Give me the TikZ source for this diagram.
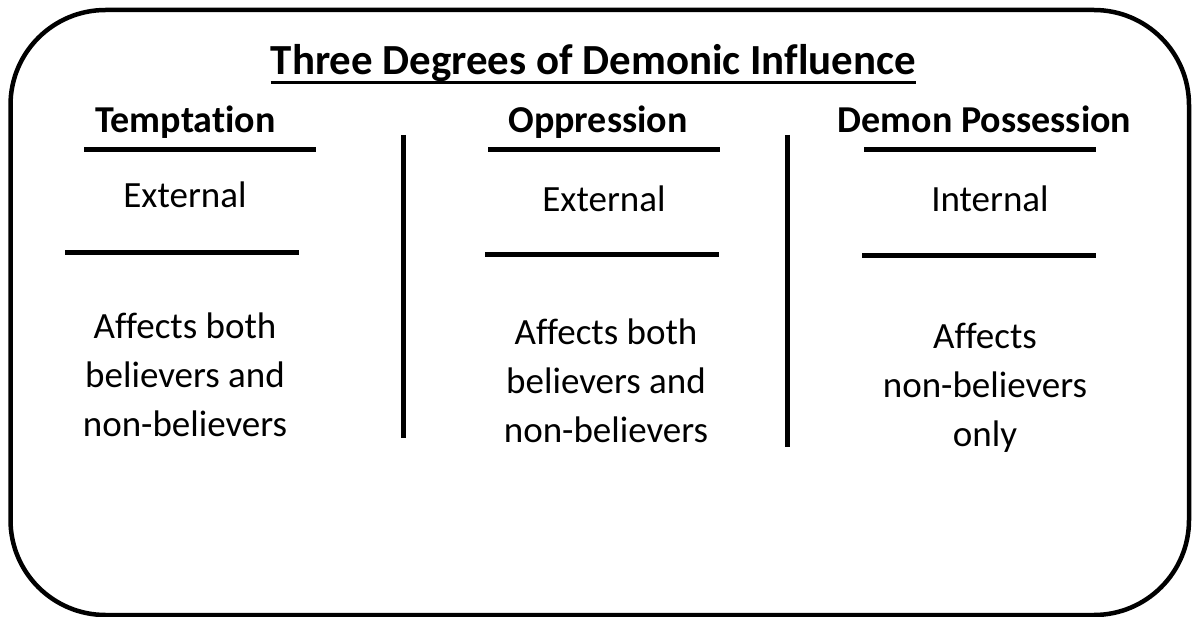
\documentclass[tikz,border=0pt]{standalone}
\usepackage{fontspec}
\setmainfont[Ligatures=NoCommon]{Carlito}
\usetikzlibrary{calc}
\begin{document}
\begin{tikzpicture}[x=1pt,y=-1pt,
  txt/.style={inner sep=0pt,font=\fontsize{37}{49}\selectfont},
  head/.style={inner sep=0pt,font=\fontsize{38}{49}\selectfont\bfseries},
  block/.style={inner sep=0pt,align=center,font=\fontsize{37}{49}\selectfont},
  rule/.style={line width=5pt},
  frame/.style={line width=4.5pt,rounded corners=95pt}]
\useasboundingbox (0,0) rectangle (1192,617);
\draw[frame] (10.5,10) rectangle (1189,615);
% title
\node[inner sep=0pt,anchor=base,font=\fontsize{42.9}{50}\selectfont\bfseries] (title) at (593.5,75) {Three Degrees of Demonic Influence};
\coordinate (ul1) at ($(title.base west)+(0,8)$);
\coordinate (ul2) at ($(title.base east)+(0,8)$);
\draw[line width=3pt] (ul1) -- (ul2);
% headings
\node[head,anchor=base] (h1) at (185.5,133) {Temptation};
\node[head,anchor=base] (h2) at (598,133) {Oppression};
\node[head,anchor=base] (h3) at (984.5,133) {Demon Possession};
% first rules
\coordinate (a1) at (84,150); \coordinate (a2) at (316,150);
\coordinate (b1) at (488,150); \coordinate (b2) at (720,150);
\coordinate (c1) at (864,150); \coordinate (c2) at (1096,150);
\draw[rule] (a1) -- (a2);
\draw[rule] (b1) -- (b2);
\draw[rule] (c1) -- (c2);
% second line
\node[txt,anchor=base] (e1) at (185,208) {External};
\node[txt,anchor=base] (e2) at (604,212) {External};
\node[txt,anchor=base] (e3) at (990,212) {Internal};
% second rules
\coordinate (d1) at (65,253); \coordinate (d2) at (299,253);
\coordinate (f1) at (485,255); \coordinate (f2) at (719,255);
\coordinate (g1) at (862,256); \coordinate (g2) at (1096,256);
\draw[rule] (d1) -- (d2);
\draw[rule] (f1) -- (f2);
\draw[rule] (g1) -- (g2);
% blocks (base anchor = last line)
\node[block,anchor=base] (t1) at (185,437) {Affects both\\believers and\\non-believers};
\node[block,anchor=base] (t2) at (606,443) {Affects both\\believers and\\non-believers};
\node[block,anchor=base] (t3) at (985,447) {Affects\\non-believers\\only};
% separators
\coordinate (v1) at (403,135); \coordinate (v2) at (403,438);
\coordinate (w1) at (787,135); \coordinate (w2) at (787,447);
\draw[rule] (v1) -- (v2);
\draw[rule] (w1) -- (w2);
\end{tikzpicture}
\end{document}
